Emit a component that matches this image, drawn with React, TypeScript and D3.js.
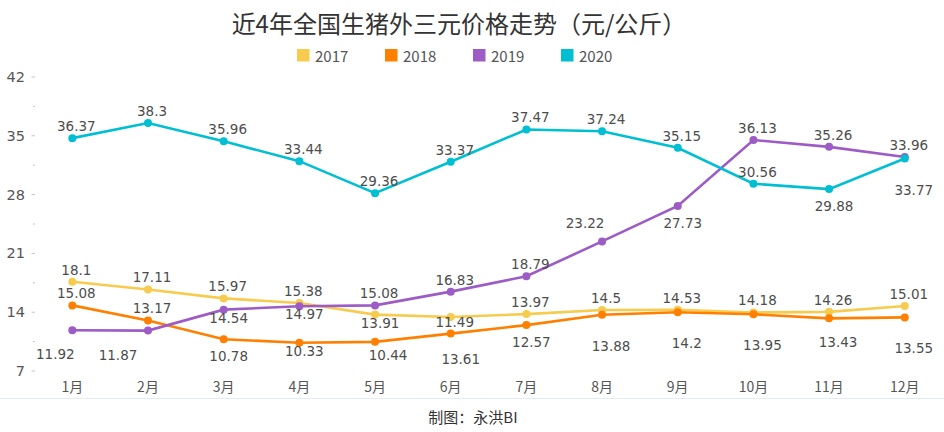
import React from "react";
import * as d3 from "d3";

const months = ["1月", "2月", "3月", "4月", "5月", "6月", "7月", "8月", "9月", "10月", "11月", "12月"];
const years = ["2017", "2018", "2019", "2020"];
const v2017 = [18.1, 17.11, 15.97, 15.38, 13.91, 13.61, 13.97, 14.5, 14.53, 14.18, 14.26, 15.01];
const v2018 = [15.08, 13.17, 10.78, 10.33, 10.44, 11.49, 12.57, 13.88, 14.2, 13.95, 13.43, 13.55];
const v2019 = [11.92, 11.87, 14.54, 14.97, 15.08, 16.83, 18.79, 23.22, 27.73, 36.13, 35.26, 33.96];
const v2020 = [36.37, 38.3, 35.96, 33.44, 29.36, 33.37, 37.47, 37.24, 35.15, 30.56, 29.88, 33.77];
const yTicks = [7, 14, 21, 28, 35, 42];

const TITLE = "近4年全国生猪外三元价格走势（元/公斤）";
const CAPTION = "制图：永洪BI";

// layout: colors and label placement codes per series
const colors = ["#f7cb4d", "#ff7f00", "#9d5bc6", "#00bfd3"];
const placements = ["aaaadgaaaaaa", "aabdhabccckc", "emddaaafbaaa", "aaaaaaaaaabc"];
const offsets: Record<string, [number, number]> = {
  a: [4, -12],
  b: [5, 17],
  c: [9, 31],
  d: [5, 8],
  e: [-17, 24],
  m: [-30, 24],
  f: [-17, -18],
  g: [10, 42],
  h: [13, 13],
  k: [9, 24],
};

const W = 944;
const H = 432;

export default function App() {
  const series = [v2017, v2018, v2019, v2020];
  const x = d3.scalePoint<string>().domain(months).range([34.5, 942.6]).padding(0.5);
  const yAxis = d3.scaleLinear().domain([7, 42]).range([371, 77]);
  const yData = d3.scaleLinear().domain([6.73, 44.15]).range([371, 77]);
  const line = d3
    .line<number>()
    .x((_, i) => x(months[i]) as number)
    .y((d) => yData(d));

  const minor = yTicks.slice(0, -1).map((t, i) => (t + yTicks[i + 1]) / 2);
  const labelFont = "'DejaVu Sans', sans-serif";
  const cjkFont = "'Noto Sans CJK SC', 'Noto Sans', sans-serif";

  return (
    <svg
      width={W}
      height={H}
      style={{ position: "absolute", left: 0, top: 0, background: "#fff" }}
    >
      <text
        x={459}
        y={22}
        textAnchor="middle"
        dominantBaseline="central"
        fontFamily={cjkFont}
        fontSize={24}
        fill="#333"
      >
        {TITLE}
      </text>

      {years.map((yr, i) => (
        <g key={yr} transform={`translate(${297 + i * 88},0)`}>
          <rect x={0} y={49} width={12.5} height={12.5} fill={colors[i]} />
          <text
            x={18}
            y={55.5}
            dominantBaseline="central"
            fontFamily={cjkFont}
            fontSize={15}
            fill="#555"
          >
            {yr}
          </text>
        </g>
      ))}

      {yTicks.map((t) => (
        <g key={t}>
          <text
            x={25}
            y={yAxis(t)}
            textAnchor="end"
            dominantBaseline="central"
            fontFamily={labelFont}
            fontSize={14.5}
            fill="#555"
          >
            {t}
          </text>
          <line x1={31.5} x2={35} y1={yAxis(t)} y2={yAxis(t)} stroke="#c4c4c4" strokeWidth={1} />
        </g>
      ))}
      {minor.map((t) => (
        <line key={t} x1={33} x2={35} y1={yAxis(t)} y2={yAxis(t)} stroke="#c4c4c4" strokeWidth={1} />
      ))}

      {months.map((m) => (
        <text
          key={m}
          x={x(m)}
          y={386}
          textAnchor="middle"
          dominantBaseline="central"
          fontFamily={cjkFont}
          fontSize={14}
          fill="#555"
        >
          {m}
        </text>
      ))}

      {series.map((vals, si) => (
        <g key={years[si]}>
          <path d={line(vals) ?? ""} fill="none" stroke={colors[si]} strokeWidth={2.6} />
          {vals.map((v, i) => (
            <circle key={i} cx={x(months[i])} cy={yData(v)} r={4} fill={colors[si]} />
          ))}
        </g>
      ))}

      {series.map((vals, si) => (
        <g key={"l" + years[si]}>
          {vals.map((v, i) => {
            const [dx, dy] = offsets[placements[si][i]];
            return (
              <text
                key={i}
                x={(x(months[i]) as number) + dx}
                y={yData(v) + dy}
                textAnchor="middle"
                dominantBaseline="central"
                fontFamily={labelFont}
                fontSize={13.5}
                fill="#4d4d4d"
              >
                {String(v)}
              </text>
            );
          })}
        </g>
      ))}

      <line x1={0} x2={W} y1={398.5} y2={398.5} stroke="#e4ecf3" strokeWidth={1} />
      <text
        x={473}
        y={416.5}
        textAnchor="middle"
        dominantBaseline="central"
        fontFamily={cjkFont}
        fontSize={15}
        fill="#333"
      >
        {CAPTION}
      </text>
    </svg>
  );
}
